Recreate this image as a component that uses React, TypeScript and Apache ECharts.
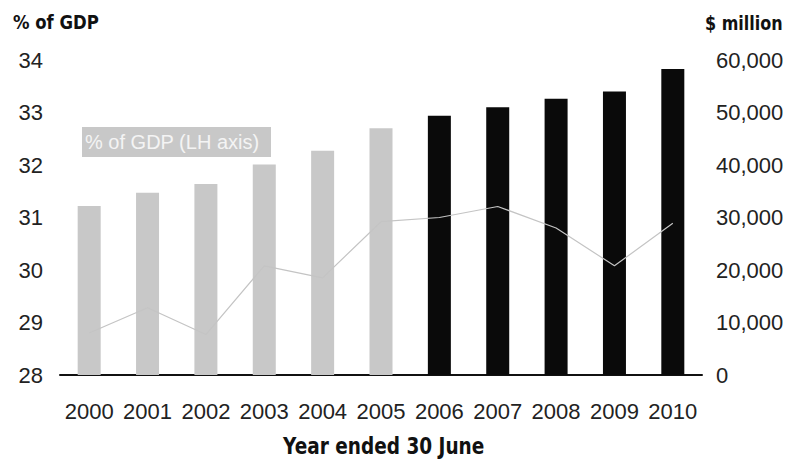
import React, { useEffect, useRef } from "react";
import * as echarts from "echarts";

const years = ["2000", "2001", "2002", "2003", "2004", "2005", "2006", "2007", "2008", "2009", "2010"];
const spendingMillions = [32200, 34700, 36400, 40100, 42700, 47000, 49400, 51000, 52600, 54000, 58300];
const gdpShare = [28.8, 29.28, 28.77, 30.08, 29.85, 30.92, 31.0, 31.21, 30.8, 30.08, 30.89];
const blackFromYear = "2006";
const leftTicks = { min: 28, max: 34, interval: 1 };
const rightTicks = { min: 0, max: 60000, interval: 10000 };

const TICK_FONT = "'Liberation Sans', Arial, sans-serif";
const BOLD_FONT = "'DejaVu Sans', Verdana, sans-serif";

export default function App() {
  const ref = useRef<HTMLDivElement>(null);
  useEffect(() => {
    document.body.style.margin = "0";
    if (!ref.current) return;
    const chart = echarts.init(ref.current, null, { renderer: "svg" });
    const blackIdx = years.indexOf(blackFromYear);
    chart.setOption({
      animation: false,
      backgroundColor: "#ffffff",
      grid: { left: 60, right: 85, top: 60, bottom: 84, containLabel: false },
      xAxis: {
        type: "category",
        data: years,
        boundaryGap: true,
        axisLine: { lineStyle: { color: "#111", width: 2 } },
        axisTick: { show: false },
        axisLabel: { color: "#222", fontSize: 22, fontFamily: TICK_FONT, margin: 25, interval: 0 },
      },
      yAxis: [
        {
          type: "value",
          position: "left",
          min: leftTicks.min,
          max: leftTicks.max,
          interval: leftTicks.interval,
          axisLine: { show: false },
          axisTick: { show: false },
          splitLine: { show: false },
          axisLabel: { color: "#222", fontSize: 22, fontFamily: TICK_FONT, margin: 17 },
        },
        {
          type: "value",
          position: "right",
          min: rightTicks.min,
          max: rightTicks.max,
          interval: rightTicks.interval,
          axisLine: { show: false },
          axisTick: { show: false },
          splitLine: { show: false },
          axisLabel: {
            color: "#222",
            fontSize: 22,
            fontFamily: TICK_FONT,
            margin: 14,
            formatter: (v: number) => v.toLocaleString("en-US"),
          },
        },
      ],
      series: [
        {
          type: "bar",
          yAxisIndex: 1,
          barWidth: 23,
          data: spendingMillions.map((v, i) => ({
            value: v,
            itemStyle: { color: i >= blackIdx ? "#0a0a0a" : "#c8c8c8" },
          })),
        },
        {
          type: "line",
          yAxisIndex: 0,
          data: gdpShare,
          symbol: "none",
          lineStyle: { color: "#c4c4c4", width: 1.2 },
          z: 5,
        },
      ],
      graphic: [
        {
          type: "text",
          x: 13,
          y: 12,
          scaleY: 1.2,
          style: { text: "% of GDP", font: `bold 16.5px ${BOLD_FONT}`, fill: "#111", verticalAlign: "top" },
        },
        {
          type: "text",
          x: 705,
          y: 14,
          scaleY: 1.2,
          style: { text: "$ million", font: `bold 16px ${BOLD_FONT}`, fill: "#111", verticalAlign: "top" },
        },
        {
          type: "text",
          x: 283,
          y: 435,
          scaleY: 1.2,
          style: { text: "Year ended 30 June", font: `bold 18.5px ${BOLD_FONT}`, fill: "#111", verticalAlign: "top" },
        },
        {
          type: "rect",
          shape: { x: 82, y: 127, width: 189, height: 30 },
          style: { fill: "#c8c8c8" },
        },
        {
          type: "text",
          x: 85,
          y: 142,
          style: {
            text: "% of GDP (LH axis)",
            font: `20px ${TICK_FONT}`,
            fill: "#f4f4f4",
            verticalAlign: "middle",
          },
        },
      ],
    });
    return () => chart.dispose();
  }, []);
  return <div ref={ref} style={{ width: 787, height: 459 }} />;
}
